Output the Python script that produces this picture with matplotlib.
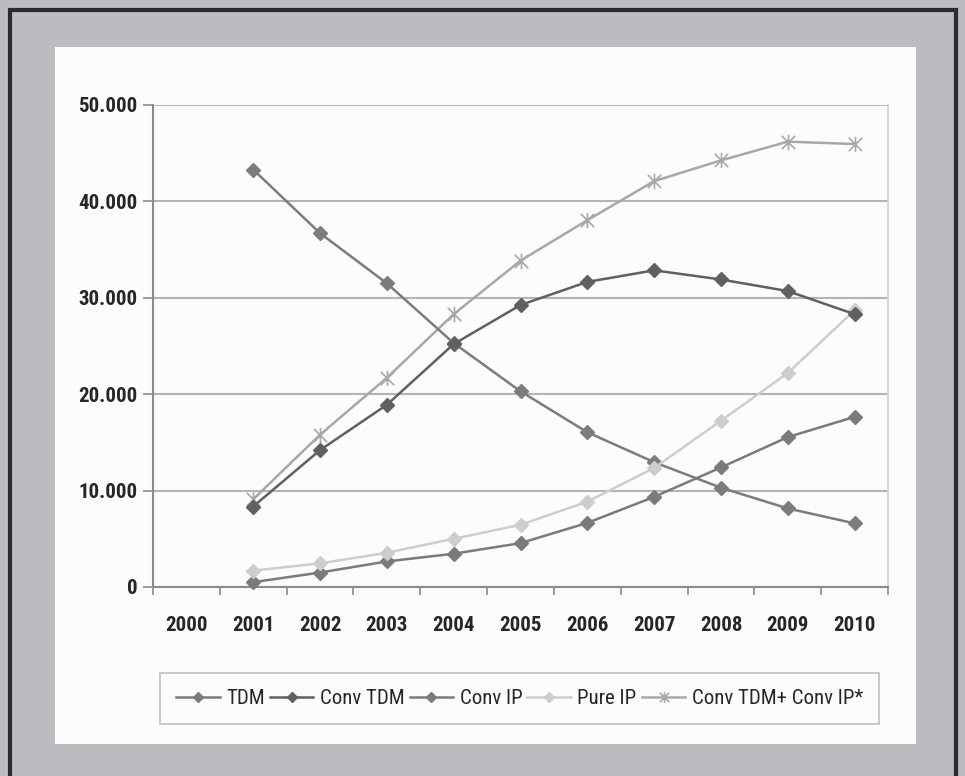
import numpy as np
import matplotlib
matplotlib.use("Agg")
import matplotlib.pyplot as plt
from matplotlib import font_manager
from matplotlib.patches import Rectangle
from matplotlib.path import Path
from matplotlib.ticker import FuncFormatter, MultipleLocator, FixedLocator

# Categories and series (thousands of lines)
years = ['2000', '2001', '2002', '2003', '2004', '2005', '2006', '2007', '2008', '2009', '2010']
data_years = ['2001', '2002', '2003', '2004', '2005', '2006', '2007', '2008', '2009', '2010']

tdm = [43300, 36700, 31500, 25300, 20300, 16050, 12950, 10300, 8150, 6600]
conv_tdm = [8350, 14200, 18900, 25200, 29250, 31650, 32850, 31900, 30700, 28300]
conv_ip = [500, 1500, 2650, 3450, 4550, 6650, 9350, 12400, 15550, 17650]
pure_ip = [1700, 2450, 3550, 5000, 6450, 8850, 12350, 17250, 22200, 28700]
conv_sum = [9100, 15800, 21700, 28300, 33850, 38050, 42100, 44250, 46200, 45950]

series_names = ['TDM', 'Conv TDM', 'Conv IP', 'Pure IP', 'Conv TDM+ Conv IP*']

installed = {f.name for f in font_manager.fontManager.ttflist}
families = [f for f in ['Liberation Sans Narrow', 'Roboto Condensed', 'Arial Narrow',
                        'Roboto', 'Liberation Sans'] if f in installed] + ['DejaVu Sans']
plt.rcParams['font.family'] = families
narrow = families[0] in ('Liberation Sans Narrow', 'Roboto Condensed', 'Arial Narrow')
tick_fs = 15 if narrow else 13.5
leg_fs = 15 if narrow else 12.5

W, H = 965, 776
fig = plt.figure(figsize=(W / 100, H / 100), dpi=100)
fig.patch.set_facecolor('#bbbcc0')

def fx(px):
    return px / W

def fy(py):
    return 1 - py / H

# Dark outer frame and white panel
fig.add_artist(Rectangle((fx(10), fy(790)), fx(956) - fx(10), fy(10) - fy(790),
                         transform=fig.transFigure, facecolor='none',
                         edgecolor='#2b2b2b', linewidth=3, zorder=0))
fig.add_artist(Rectangle((fx(55), fy(744)), fx(916) - fx(55), fy(47) - fy(744),
                         transform=fig.transFigure, facecolor='#fcfcfc',
                         edgecolor='none', zorder=0))

ax = fig.add_axes([fx(153), fy(587), fx(888) - fx(153), fy(105) - fy(587)])
ax.set_facecolor('none')

pos = {y: i for i, y in enumerate(years)}
xs = [pos[y] for y in data_years]

star = Path([(-1, -1), (1, 1), (-1, 1), (1, -1), (0, -1.15), (0, 1.15)],
            [Path.MOVETO, Path.LINETO, Path.MOVETO, Path.LINETO, Path.MOVETO, Path.LINETO])

styles = [
    dict(color='#7c7c7c', marker='D', ms=7),
    dict(color='#606060', marker='D', ms=7),
    dict(color='#7a7a7a', marker='D', ms=7),
    dict(color='#cdcdcd', marker='D', ms=7),
    dict(color='#a8a8a8', marker=star, ms=11, mfc='none', mew=1.2),
]
values = [tdm, conv_tdm, conv_ip, pure_ip, conv_sum]
order = [4, 0, 2, 3, 1]
handles = {}
for i in order:
    st = styles[i]
    ln, = ax.plot(xs, values[i], color=st['color'], lw=1.8,
                  marker=st['marker'], markersize=st['ms'],
                  mfc=st.get('mfc', st['color']), mec=st['color'],
                  mew=st.get('mew', 1.0), label=series_names[i],
                  zorder=3, clip_on=False)
    handles[i] = ln

ax.set_xlim(-0.5, 10.5)
ax.set_ylim(0, 50000)
ax.yaxis.set_major_locator(MultipleLocator(10000))
ax.yaxis.set_major_formatter(FuncFormatter(lambda v, p: f"{int(v):,}".replace(',', '.')))
ax.grid(axis='y', color='#b4b4b4', linewidth=1.5, zorder=1)
ax.set_axisbelow(True)

ax.xaxis.set_major_locator(FixedLocator(range(len(years))))
ax.set_xticklabels(years)
ax.xaxis.set_minor_locator(FixedLocator(np.arange(-0.5, 11, 1)))
ax.tick_params(axis='x', which='major', length=0, pad=21, labelsize=tick_fs, labelcolor='#262626')
ax.tick_params(axis='x', which='minor', length=6, width=1.2, color='#8a8a8a', direction='out')
ax.tick_params(axis='y', which='major', length=7, width=1.2, color='#8a8a8a', pad=4,
               labelsize=tick_fs, labelcolor='#262626')
for lab in ax.get_xticklabels() + ax.get_yticklabels():
    lab.set_fontweight('bold')

for side in ['left', 'bottom']:
    ax.spines[side].set_color('#8a8a8a')
    ax.spines[side].set_linewidth(1.5)
ax.spines['top'].set_visible(False)
ax.spines['right'].set_color('#cfcfcf')
ax.spines['right'].set_linewidth(1.2)

leg = fig.legend([handles[i] for i in range(5)], series_names,
                 loc='center', bbox_to_anchor=(fx(519.5), fy(698.5)),
                 ncol=5, frameon=True, fancybox=False, fontsize=leg_fs,
                 handlelength=2.1, handletextpad=0.3, columnspacing=0.25,
                 borderpad=0.75, borderaxespad=0, markerscale=0.7)
leg.get_frame().set_edgecolor('#b0b0b0')
leg.get_frame().set_linewidth(1.2)
leg.get_frame().set_facecolor('#fcfcfc')
for t in leg.get_texts():
    t.set_color('#262626')

fig.savefig('out.png', dpi=100, facecolor=fig.get_facecolor())
